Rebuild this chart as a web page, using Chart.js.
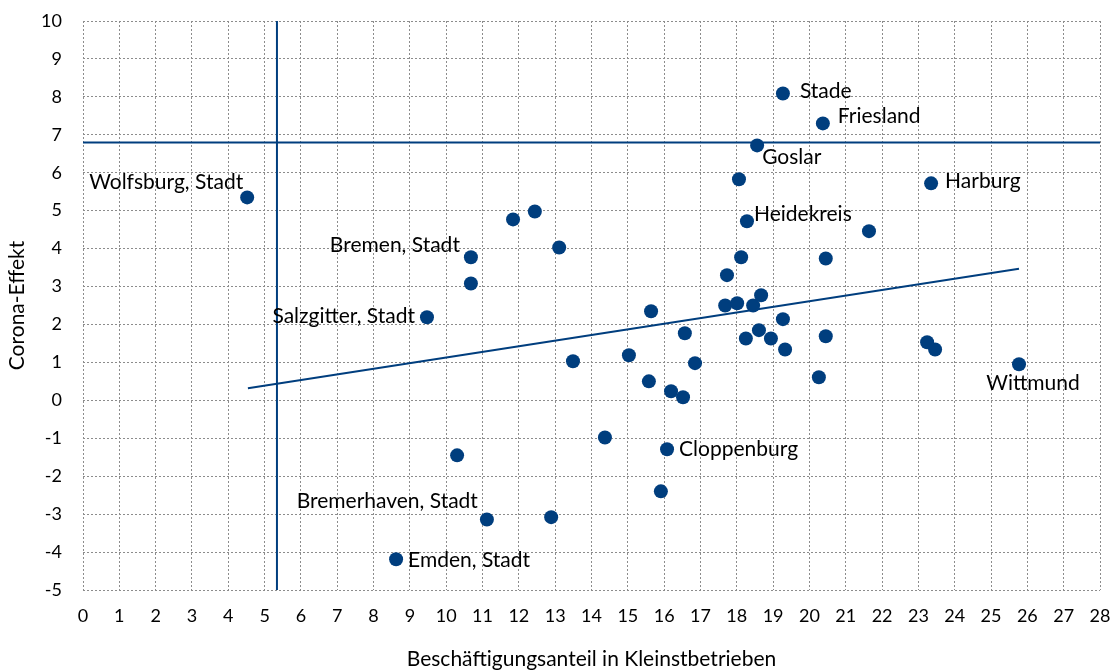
<!DOCTYPE html>
<html>
<head>
<meta charset="utf-8">
<script src="https://cdn.jsdelivr.net/npm/chart.js@4.4.1/dist/chart.umd.min.js"></script>
<style>
  html, body { margin: 0; padding: 0; background: #fff; }
</style>
</head>
<body>
<canvas id="myChart" width="1112" height="672"></canvas>
<script>
// Kreise: Beschäftigungsanteil in Kleinstbetrieben (x) und Corona-Effekt (y)
const names = [
  'Wolfsburg, Stadt', 'Emden, Stadt', 'Salzgitter, Stadt', '', 'Bremen, Stadt', '',
  'Bremerhaven, Stadt', '', '', '', '', '', '', '', '', '', '', 'Cloppenburg',
  '', '', '', '', '', '', '', '', '', 'Heidekreis', '', '', '', '', '', '', '',
  'Goslar', 'Stade', 'Friesland', '', '', '', '', 'Harburg', '', '', 'Wittmund'
];
const xValues = [
  4.52, 8.62, 9.47, 10.30, 10.68, 10.68,
  11.12, 11.84, 12.44, 12.89, 13.11, 13.49, 14.37, 15.03, 15.58, 15.64, 15.91, 16.08,
  16.19, 16.52, 16.57, 16.85, 17.73, 17.68, 18.01, 18.12, 18.06, 18.28, 18.45, 18.67, 18.25, 18.61, 18.94, 19.27, 19.33,
  18.56, 19.27, 20.37, 20.26, 20.45, 20.45, 21.64, 23.35, 23.24, 23.46, 25.77
];
const yValues = [
  5.35, -4.19, 2.19, -1.45, 3.77, 3.08,
  -3.14, 4.77, 4.98, -3.08, 4.03, 1.03, -0.98, 1.19, 0.50, 2.35, -2.40, -1.29,
  0.24, 0.08, 1.77, 0.98, 3.30, 2.50, 2.56, 3.77, 5.83, 4.72, 2.50, 2.77, 1.63, 1.85, 1.63, 2.14, 1.34,
  6.72, 8.09, 7.30, 0.61, 1.69, 3.74, 4.46, 5.72, 1.53, 1.34, 0.95
];

// Referenzlinien (Mittelwerte) und Trendlinie
const xMean = 5.34;
const yMean = 6.80;
const trendX = [4.54, 25.77];
const trendY = [0.32, 3.47];

const xTicks = { min: 0, max: 28, step: 1 };
const yTicks = { min: -5, max: 10, step: 1 };

const blue = 'rgb(0, 62, 126)';
const fontFamily = "'Source Sans Pro', Lato, 'Noto Sans', sans-serif";

// Lage der Beschriftungen relativ zum Punkt
const labelPlacement = {
  'Wolfsburg, Stadt':   { align: 'right',  dx: -4,  dy: -15 },
  'Bremen, Stadt':      { align: 'right',  dx: -11, dy: -12 },
  'Salzgitter, Stadt':  { align: 'right',  dx: -12, dy: -1 },
  'Bremerhaven, Stadt': { align: 'right',  dx: -9,  dy: -18 },
  'Emden, Stadt':       { align: 'left',   dx: 12,  dy: 1 },
  'Cloppenburg':        { align: 'left',   dx: 12,  dy: 0 },
  'Stade':              { align: 'left',   dx: 17,  dy: -2 },
  'Friesland':          { align: 'left',   dx: 15,  dy: -7 },
  'Goslar':             { align: 'left',   dx: 5,   dy: 12 },
  'Heidekreis':         { align: 'left',   dx: 7,   dy: -7 },
  'Harburg':            { align: 'left',   dx: 14,  dy: -2 },
  'Wittmund':           { align: 'center', dx: 14,  dy: 19 }
};

const points = xValues.map(function (x, i) { return { x: x, y: yValues[i] }; });

const pointLabels = {
  id: 'pointLabels',
  afterDatasetsDraw: function (chart) {
    const ctx = chart.ctx;
    const xs = chart.scales.x;
    const ys = chart.scales.y;
    ctx.save();
    ctx.font = '21px ' + fontFamily;
    ctx.fillStyle = '#000';
    ctx.textBaseline = 'middle';
    names.forEach(function (name, i) {
      if (!name) return;
      const p = labelPlacement[name];
      ctx.textAlign = p.align;
      ctx.fillText(name, xs.getPixelForValue(xValues[i]) + p.dx, ys.getPixelForValue(yValues[i]) + p.dy);
    });
    ctx.restore();
  }
};

var ctx = document.getElementById('myChart').getContext('2d');

var myChart = new Chart(ctx, {
  type: 'scatter',
  data: {
    datasets: [
      {
        label: 'Kreise',
        data: points,
        backgroundColor: blue,
        borderWidth: 0,
        pointRadius: 7,
        order: 1
      },
      {
        label: 'Trend',
        type: 'line',
        data: [{ x: trendX[0], y: trendY[0] }, { x: trendX[1], y: trendY[1] }],
        borderColor: blue,
        borderWidth: 2,
        pointRadius: 0,
        order: 2
      },
      {
        label: 'Mittelwert x',
        type: 'line',
        data: [{ x: xMean, y: yTicks.min }, { x: xMean, y: yTicks.max }],
        borderColor: blue,
        borderWidth: 2,
        pointRadius: 0,
        order: 3
      },
      {
        label: 'Mittelwert y',
        type: 'line',
        data: [{ x: xTicks.min, y: yMean }, { x: xTicks.max, y: yMean }],
        borderColor: blue,
        borderWidth: 2,
        pointRadius: 0,
        order: 3
      }
    ]
  },
  options: {
    responsive: false,
    animation: false,
    layout: { padding: { top: 21, right: 12, left: 0, bottom: 0 } },
    plugins: {
      legend: { display: false },
      tooltip: { enabled: false }
    },
    scales: {
      x: {
        type: 'linear',
        min: xTicks.min,
        max: xTicks.max,
        border: { display: false, dash: [2, 2] },
        grid: { color: '#8c8c8c', lineWidth: 1, drawTicks: true, tickLength: 15, tickColor: 'rgba(0,0,0,0)' },
        ticks: {
          stepSize: xTicks.step,
          padding: 0,
          color: '#000',
          font: { family: fontFamily, size: 18 },
          maxRotation: 0
        },
        title: {
          display: true,
          text: 'Beschäftigungsanteil in Kleinstbetrieben',
          color: '#000',
          font: { family: fontFamily, size: 21 },
          padding: { top: 0, bottom: 0 }
        },
        afterFit: function (scale) { scale.height = 82; }
      },
      y: {
        type: 'linear',
        min: yTicks.min,
        max: yTicks.max,
        border: { display: false, dash: [2, 2] },
        grid: { color: '#8c8c8c', lineWidth: 1, drawTicks: true, tickLength: 18, tickColor: 'rgba(0,0,0,0)' },
        ticks: {
          stepSize: yTicks.step,
          padding: 3,
          color: '#000',
          font: { family: fontFamily, size: 18 }
        },
        title: {
          display: true,
          text: 'Corona-Effekt',
          color: '#000',
          font: { family: fontFamily, size: 21 },
          padding: { top: 5, bottom: 0 }
        },
        afterFit: function (scale) { scale.width = 83; }
      }
    }
  },
  plugins: [pointLabels]
});
</script>
</body>
</html>
